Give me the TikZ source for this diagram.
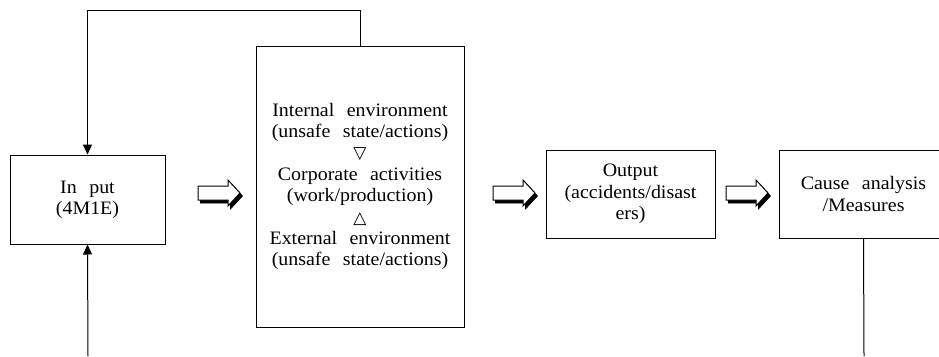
\documentclass[tikz,border=0pt]{standalone}
\usepackage{fontspec}
\setmainfont[FakeStretch=1.05,WordSpace=2.5]{Liberation Serif}
\newfontfamily\symfont{DejaVu Sans}
\usetikzlibrary{arrows.meta}
\tikzset{
  box/.style={draw, line width=1pt, inner sep=0pt, align=center,
    font=\fontsize{19}{21.4}\selectfont},
  conn/.style={line width=1pt},
  arr/.style={conn, -{Triangle[length=10pt,width=9pt]}},
  barrowshadow/.style={fill=black, draw=black, line width=0.6pt},
  barrowbody/.style={fill=white, draw=black, line width=1pt, line join=miter}
}
\newcommand\blockarrow[1]{%
  \begin{scope}[shift={(#1)}]
    \path[barrowshadow] (2.5,-4) -- (32.5,-4) -- (32.5,-10) -- (44.5,3) -- (32.5,16) -- (32.5,10) -- (2.5,10) -- cycle;
    \path[barrowbody] (0,-7) -- (30,-7) -- (30,-13) -- (42,0) -- (30,13) -- (30,7) -- (0,7) -- cycle;
  \end{scope}}
\newcommand\tri[1]{{\symfont\fontsize{17}{21.4}\selectfont #1}}
\begin{document}
\begin{tikzpicture}[x=1pt,y=-1pt]
  \useasboundingbox (0,0) rectangle (939,356);
  \node[box, minimum width=155pt, minimum height=89pt] (in) at (87.5,199.5) {In put\\(4M1E)};
  \node[box, minimum width=208pt, minimum height=281pt] (mid) at (360,186.5)
    {Internal environment\\(unsafe state/actions)\\\tri{▽}\\Corporate activities\\(work/production)\\\tri{△}\\External environment\\(unsafe state/actions)};
  \node[box, minimum width=169pt, minimum height=88pt] (out) at (630.5,194)
    {Output\\(accidents/disast\\ers)};
  \node[box, minimum width=169pt, minimum height=88pt] (cause) at (863.5,194)
    {Cause analysis\\/Measures};
  \coordinate (topy) at (0,10);
  \coordinate (bin) at (88,356);
  \coordinate (bcause) at (864,356);
  \draw[arr] (mid.north) -- (mid.north |- topy) -| (in.north);
  \draw[arr] (bin) -- (in.south);
  \draw[conn] (cause.south) -- (bcause);
  \coordinate (a1) at (198,193);
  \coordinate (a2) at (493,193);
  \coordinate (a3) at (726,193);
  \blockarrow{a1}
  \blockarrow{a2}
  \blockarrow{a3}
\end{tikzpicture}
\end{document}
